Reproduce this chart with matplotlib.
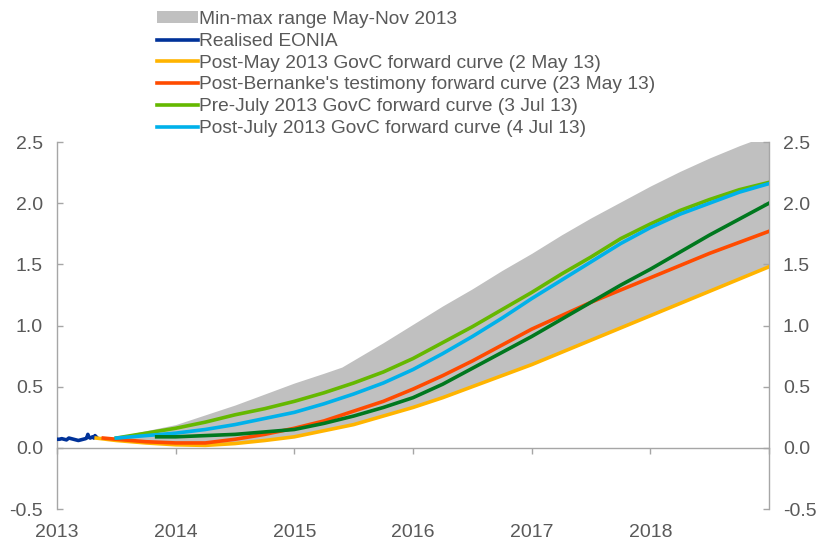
import matplotlib
matplotlib.use("Agg")
import matplotlib.pyplot as plt
from matplotlib.patches import Patch
from matplotlib.lines import Line2D

plt.rcParams['font.family'] = ['Liberation Sans', 'DejaVu Sans']

# Realised EONIA, Jan-May 2013 (%)
eonia_t = [2013.00, 2013.02, 2013.04, 2013.06, 2013.08, 2013.10, 2013.12, 2013.14,
           2013.16, 2013.18, 2013.20, 2013.22, 2013.24, 2013.25, 2013.26, 2013.27,
           2013.28, 2013.29, 2013.30, 2013.31, 2013.32, 2013.33]
eonia_v = [0.07, 0.07, 0.075, 0.07, 0.065, 0.08, 0.075, 0.07,
           0.065, 0.06, 0.065, 0.07, 0.075, 0.08, 0.11, 0.085,
           0.08, 0.085, 0.09, 0.08, 0.1, 0.09]

# Min-max range of forward curves, May-Nov 2013
band_t = [2013.33, 2013.5, 2013.75, 2014.0, 2014.25, 2014.5, 2014.75, 2015.0, 2015.25,
          2015.4, 2015.75, 2016.0, 2016.25, 2016.5, 2016.75, 2017.0, 2017.25, 2017.5,
          2017.75, 2018.0, 2018.25, 2018.5, 2018.75, 2019.0]
band_lo = [0.08, 0.06, 0.04, 0.025, 0.02, 0.035, 0.06, 0.09, 0.14,
           0.17, 0.26, 0.33, 0.41, 0.50, 0.59, 0.68, 0.78, 0.88,
           0.98, 1.08, 1.18, 1.28, 1.38, 1.48]
band_hi = [0.08, 0.09, 0.14, 0.19, 0.27, 0.35, 0.44, 0.53, 0.61,
           0.66, 0.86, 1.01, 1.16, 1.30, 1.45, 1.59, 1.74, 1.88,
           2.01, 2.14, 2.26, 2.37, 2.47, 2.56]

q = [2013.5, 2013.75, 2014.0, 2014.25, 2014.5, 2014.75, 2015.0, 2015.25, 2015.5,
     2015.75, 2016.0, 2016.25, 2016.5, 2016.75, 2017.0, 2017.25, 2017.5, 2017.75,
     2018.0, 2018.25, 2018.5, 2018.75, 2019.0]

# Forward curves (%)
may_t = [2013.33] + q
may_v = [0.08, 0.06, 0.04, 0.025, 0.02, 0.035, 0.06, 0.09, 0.14, 0.19,
         0.26, 0.33, 0.41, 0.50, 0.59, 0.68, 0.78, 0.88, 0.98,
         1.08, 1.18, 1.28, 1.38, 1.48]

bern_t = [2013.39] + q
bern_v = [0.08, 0.07, 0.05, 0.04, 0.04, 0.07, 0.11, 0.16, 0.22, 0.30,
          0.38, 0.48, 0.59, 0.71, 0.84, 0.97, 1.08, 1.19, 1.29,
          1.39, 1.49, 1.59, 1.68, 1.77]

prejul_t = q
prejul_v = [0.08, 0.12, 0.16, 0.21, 0.27, 0.32, 0.38, 0.45, 0.53,
            0.62, 0.73, 0.86, 0.99, 1.13, 1.27, 1.42, 1.56, 1.71,
            1.83, 1.94, 2.03, 2.11, 2.17]

postjul_t = q
postjul_v = [0.08, 0.10, 0.12, 0.15, 0.19, 0.24, 0.29, 0.36, 0.44,
             0.53, 0.64, 0.77, 0.91, 1.06, 1.22, 1.37, 1.52, 1.67,
             1.80, 1.91, 2.00, 2.09, 2.16]

nov_t = [2013.84] + q[2:]
nov_v = [0.09, 0.09, 0.10, 0.11, 0.13, 0.15, 0.20, 0.26, 0.33,
         0.41, 0.52, 0.65, 0.78, 0.91, 1.05, 1.19, 1.33,
         1.46, 1.60, 1.74, 1.87, 2.00]

years = [2013, 2014, 2015, 2016, 2017, 2018, 2019]
year_labels = ['2013', '2014', '2015', '2016', '2017', '2018', '']
yticks = [-0.5, 0.0, 0.5, 1.0, 1.5, 2.0, 2.5]

GREY_TXT = '#595959'
AX_COL = '#A6A6A6'
C_BAND = '#C0C0C0'
C_EONIA = '#003299'
C_MAY = '#FFB400'
C_BERN = '#FF4B00'
C_PRE = '#65B800'
C_POST = '#00B1EA'
C_NOV = '#00781E'

fig = plt.figure(figsize=(8.16, 5.42), dpi=100)
ax = fig.add_axes([57 / 816, 1 - 509 / 542, (769 - 57) / 816, (509 - 142) / 542])

ax.fill_between(band_t, band_lo, band_hi, color=C_BAND, lw=0, zorder=1)
lw = 2.6
line_kw = dict(lw=lw, zorder=3, solid_joinstyle='round')
ax.plot(eonia_t, eonia_v, color=C_EONIA, **line_kw)
ax.plot(may_t, may_v, color=C_MAY, **line_kw)
ax.plot(bern_t, bern_v, color=C_BERN, **line_kw)
ax.plot(prejul_t, prejul_v, color=C_PRE, **line_kw)
ax.plot(postjul_t, postjul_v, color=C_POST, **line_kw)
ax.plot(nov_t, nov_v, color=C_NOV, **line_kw)

ax.set_xlim(2013, 2019)
ax.set_ylim(-0.5, 2.5)

ax.spines['top'].set_visible(False)
ax.spines['bottom'].set_position(('data', 0))
for s in ['left', 'right', 'bottom']:
    ax.spines[s].set_color(AX_COL)
    ax.spines[s].set_linewidth(1.0)

ax.set_xticks(years)
ax.set_xticklabels(year_labels)
ax.tick_params(axis='x', direction='out', length=4, width=1, color=AX_COL,
               labelcolor=GREY_TXT, labelsize=14, pad=51)
ax.set_yticks(yticks)
ax.set_yticklabels([f'{v:.1f}' for v in yticks])
ax.tick_params(axis='y', direction='in', length=4, width=1, color=AX_COL,
               labelcolor=GREY_TXT, labelsize=14, left=True, right=True,
               labelleft=True, labelright=True, pad=10)

handles = [
    Patch(facecolor=C_BAND, edgecolor='none'),
    Line2D([], [], color=C_EONIA, lw=lw),
    Line2D([], [], color=C_MAY, lw=lw),
    Line2D([], [], color=C_BERN, lw=lw),
    Line2D([], [], color=C_PRE, lw=lw),
    Line2D([], [], color=C_POST, lw=lw),
]
labels = [
    'Min-max range May-Nov 2013',
    'Realised EONIA',
    'Post-May 2013 GovC forward curve (2 May 13)',
    "Post-Bernanke's testimony forward curve (23 May 13)",
    'Pre-July 2013 GovC forward curve (3 Jul 13)',
    'Post-July 2013 GovC forward curve (4 Jul 13)',
]
leg = fig.legend(handles, labels, loc='upper left', bbox_to_anchor=(157 / 816, 1 - 11 / 542),
                 frameon=False, fontsize=13.8, labelcolor=GREY_TXT, handlelength=2.15,
                 handleheight=0.55, handletextpad=0.05, labelspacing=0.25, borderpad=0.0,
                 borderaxespad=0)

fig.savefig('out.png', dpi=100)
